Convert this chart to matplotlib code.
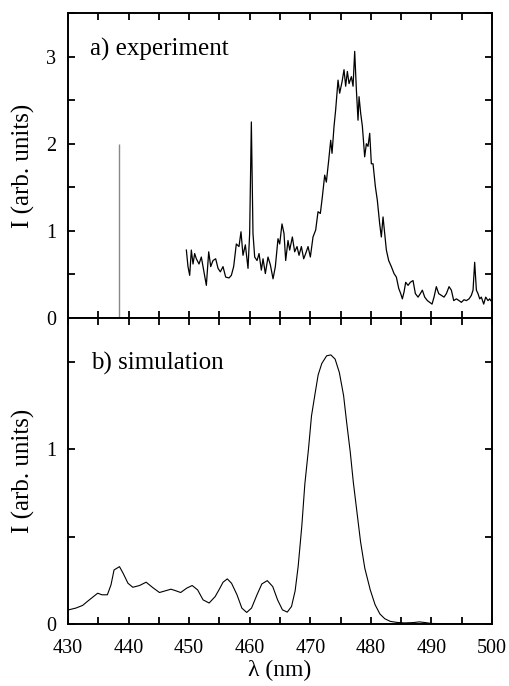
import matplotlib.pyplot as plt
from matplotlib.ticker import MultipleLocator

# experiment (panel a): wavelength in nm and intensity
exp_nm = [449.54, 449.81, 450.09, 450.36, 450.64, 450.91, 451.19, 451.63, 452.01, 452.40,
          452.84, 453.23, 453.56, 453.94, 454.38, 454.77, 455.15, 455.59, 456.03, 456.58,
          456.97, 457.35, 457.79, 458.23, 458.56, 458.89, 459.28, 459.72, 459.99, 460.27,
          460.54, 460.82, 461.21, 461.54, 461.92, 462.20, 462.58, 463.02, 463.41, 463.85,
          464.23, 464.67, 464.95, 465.33, 465.66, 465.94, 466.32, 466.60, 467.04, 467.42,
          467.81, 468.14, 468.53, 468.91, 469.24, 469.63, 470.01, 470.45, 470.89, 471.28,
          471.66, 471.99, 472.38, 472.65, 473.04, 473.37, 473.59, 473.92, 474.19, 474.58,
          474.85, 475.24, 475.57, 475.84, 476.12, 476.40, 476.78, 477.06, 477.33, 477.61,
          477.88, 478.05, 478.32, 478.60, 478.98, 479.26, 479.53, 479.81, 480.08, 480.36,
          480.74, 481.07, 481.46, 481.73, 482.01, 482.28, 482.56, 482.94, 483.38, 483.83,
          484.21, 484.60, 484.93, 485.20, 485.48, 485.75, 486.14, 486.52, 486.96, 487.35,
          487.79, 488.17, 488.50, 488.89, 489.33, 489.71, 490.10, 490.43, 490.81, 491.20,
          491.64, 492.08, 492.47, 492.91, 493.29, 493.68, 494.12, 494.56, 494.94, 495.38,
          495.77, 496.21, 496.59, 496.87, 497.14, 497.42, 497.69, 497.97, 498.24, 498.63,
          498.96, 499.34, 499.62, 499.79]
exp_I = [0.78, 0.59, 0.49, 0.78, 0.62, 0.74, 0.68, 0.62, 0.70, 0.55,
         0.375, 0.76, 0.59, 0.66, 0.68, 0.57, 0.53, 0.59, 0.47, 0.46,
         0.49, 0.59, 0.85, 0.82, 0.99, 0.72, 0.84, 0.57, 0.97, 2.25,
         0.97, 0.70, 0.66, 0.74, 0.55, 0.68, 0.51, 0.70, 0.61, 0.45,
         0.59, 0.91, 0.85, 1.08, 0.97, 0.66, 0.89, 0.78, 0.93, 0.76,
         0.82, 0.72, 0.82, 0.68, 0.74, 0.82, 0.70, 0.93, 1.01, 1.22,
         1.20, 1.39, 1.64, 1.56, 1.81, 2.04, 1.89, 2.20, 2.39, 2.73,
         2.58, 2.71, 2.85, 2.66, 2.83, 2.69, 2.77, 2.66, 3.06, 2.62,
         2.27, 2.54, 2.35, 2.20, 1.85, 2.00, 1.97, 2.12, 1.77, 1.77,
         1.51, 1.35, 1.08, 0.93, 1.16, 0.97, 0.78, 0.66, 0.59, 0.51,
         0.47, 0.34, 0.28, 0.22, 0.30, 0.41, 0.375, 0.41, 0.43, 0.28,
         0.24, 0.28, 0.32, 0.24, 0.20, 0.18, 0.16, 0.24, 0.36, 0.28,
         0.26, 0.24, 0.28, 0.36, 0.32, 0.20, 0.22, 0.20, 0.18, 0.21,
         0.20, 0.22, 0.26, 0.32, 0.64, 0.32, 0.28, 0.22, 0.24, 0.16,
         0.24, 0.20, 0.22, 0.20]

# grey reference line in panel a
ref_nm = 438.4
ref_I = 2.0

# simulation (panel b)
sim_nm = [430.0, 431.3, 432.4, 433.2, 434.1, 434.9, 435.6, 436.5, 437.1, 437.6,
          438.5, 439.1, 439.9, 440.7, 441.8, 442.9, 444.0, 445.1, 446.2, 447.0,
          447.8, 448.6, 449.6, 450.5, 451.4, 452.3, 453.3, 454.3, 455.0, 455.6,
          456.3, 457.0, 457.9, 458.7, 459.5, 460.3, 461.2, 462.0, 462.9, 463.8,
          464.6, 465.4, 466.2, 466.9, 467.5, 468.0, 468.6, 469.1, 469.7, 470.2,
          470.8, 471.3, 471.9, 472.7, 473.4, 474.1, 474.8, 475.5, 476.0, 476.6,
          477.1, 477.7, 478.3, 479.0, 479.9, 480.7, 481.5, 482.3, 483.2, 484.3,
          485.5, 487.0, 488.0, 489.0, 490.0, 495.0, 500.0]
sim_I = [0.080, 0.091, 0.106, 0.129, 0.154, 0.176, 0.167, 0.167, 0.224, 0.309,
         0.328, 0.290, 0.233, 0.210, 0.220, 0.239, 0.208, 0.180, 0.191, 0.199,
         0.190, 0.180, 0.205, 0.220, 0.195, 0.138, 0.120, 0.157, 0.200, 0.239,
         0.258, 0.233, 0.167, 0.091, 0.066, 0.091, 0.167, 0.229, 0.248, 0.214,
         0.138, 0.081, 0.068, 0.100, 0.190, 0.330, 0.560, 0.800, 1.000, 1.190,
         1.320, 1.425, 1.490, 1.534, 1.539, 1.515, 1.438, 1.306, 1.154, 0.983,
         0.812, 0.641, 0.470, 0.319, 0.195, 0.110, 0.057, 0.030, 0.015, 0.009,
         0.006, 0.008, 0.012, 0.008, 0.003, 0.0, 0.0]

plt.rcParams['font.family'] = ['Liberation Serif', 'DejaVu Serif']

fig = plt.figure(figsize=(5.09, 6.86), dpi=100)
ax1 = fig.add_axes([0.1336, 0.5364, 0.833, 0.4446])
ax2 = fig.add_axes([0.1336, 0.0904, 0.833, 0.446], sharex=ax1)

ax1.plot(exp_nm, exp_I, color='black', lw=0.9)
ax1.vlines(ref_nm, 0, ref_I, color='#888888', lw=1.0)
ax2.plot(sim_nm, sim_I, color='black', lw=0.8)

ax1.set_xlim(430, 500)
ax1.set_ylim(0, 3.5)
ax2.set_ylim(0, 1.75)

ax1.yaxis.set_major_locator(MultipleLocator(1))
ax1.yaxis.set_minor_locator(MultipleLocator(0.5))
ax2.yaxis.set_major_locator(MultipleLocator(1))
ax2.yaxis.set_minor_locator(MultipleLocator(0.5))
ax2.xaxis.set_major_locator(MultipleLocator(10))
ax2.xaxis.set_minor_locator(MultipleLocator(5))

for ax in (ax1, ax2):
    for s in ax.spines.values():
        s.set_linewidth(1.4)
    ax.tick_params(which='both', direction='in', top=True, right=True,
                   length=5, width=1.3, labelsize=14.5)
    ax.tick_params(axis='y', which='both', pad=8.5)
    ax.tick_params(axis='x', which='both', pad=11)
    ax.set_ylabel('I (arb. units)', fontsize=18, labelpad=8)

ax1.tick_params(labelbottom=False)
ax2.set_xlabel('λ (nm)', fontsize=17, labelpad=1)

ax1.text(0.052, 0.862, 'a) experiment', transform=ax1.transAxes, fontsize=18)
ax2.text(0.055, 0.83, 'b) simulation', transform=ax2.transAxes, fontsize=18)

fig.savefig('out.png', dpi=100)
